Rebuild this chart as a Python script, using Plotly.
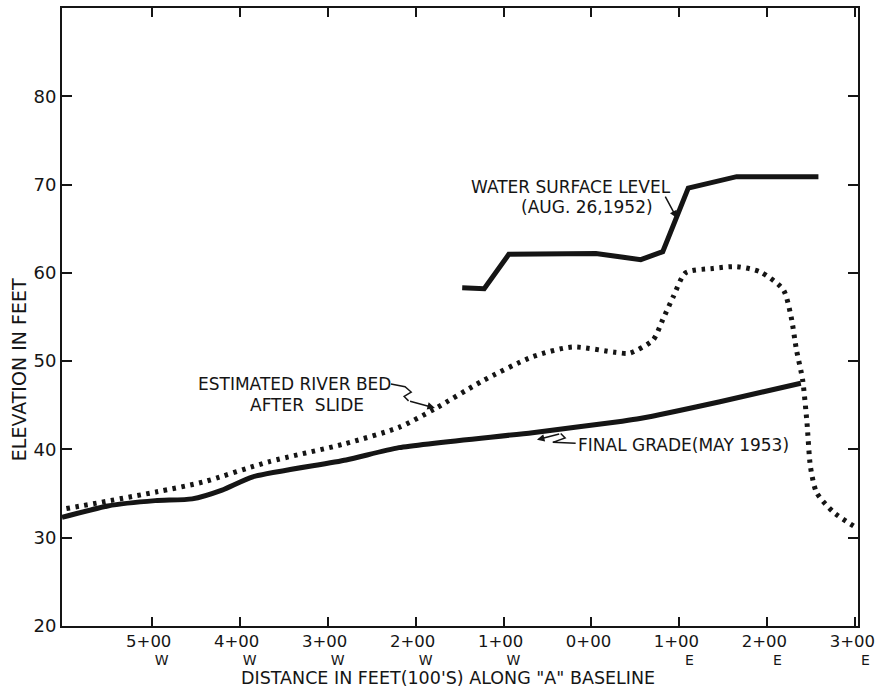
import plotly.graph_objects as go

# Distance in hundreds of feet along "A" baseline (W negative, E positive)
grade_x = [-6.02, -5.5, -4.96, -4.54, -4.2, -3.85, -2.79, -2.19, -0.67, 0.35, 0.55, 1.46, 2.38]
grade_y = [32.3, 33.6, 34.2, 34.4, 35.4, 36.9, 38.8, 40.2, 41.9, 43.2, 43.5, 45.4, 47.5]

bed_x = [-5.97, -4.94, -4.42, -3.67, -2.82, -2.19, -1.78, -1.25, -0.67, -0.22, 0.27, 0.43,
         0.70, 0.81, 0.93, 1.07, 1.38, 1.65, 1.92, 2.18, 2.27, 2.33, 2.40, 2.45, 2.49, 2.56, 2.75, 3.0]
bed_y = [33.3, 35.2, 36.3, 38.6, 40.6, 42.5, 44.6, 47.7, 50.5, 51.6, 51.0, 50.9,
         52.4, 54.7, 57.3, 60.0, 60.5, 60.7, 60.1, 58.1, 55.0, 51.3, 47.9, 43.0, 38.0, 35.1, 32.9, 31.2]

water_x = [-1.47, -1.22, -0.94, 0.05, 0.56, 0.81, 1.10, 1.65, 2.58]
water_y = [58.3, 58.2, 62.1, 62.2, 61.5, 62.4, 69.6, 70.9, 70.9]

x_tickvals = [-5, -4, -3, -2, -1, 0, 1, 2, 3]
x_ticktext = ["5+00", "4+00", "3+00", "2+00", "1+00", "0+00", "1+00", "2+00", "3+00"]
x_dirtext = ["W", "W", "W", "W", "W", "", "E", "E", "E"]
y_tickvals = [20, 30, 40, 50, 60, 70, 80]

INK = "#151515"
FONT = "DejaVu Sans"

fig = go.Figure()
fig.add_trace(go.Scatter(x=bed_x, y=bed_y, mode="lines",
                         line=dict(color=INK, width=5, dash="3.5px,5.5px", shape="spline", smoothing=0.7),
                         name="Estimated river bed after slide", hoverinfo="skip"))
fig.add_trace(go.Scatter(x=grade_x, y=grade_y, mode="lines",
                         line=dict(color=INK, width=5, shape="spline", smoothing=0.6),
                         name="Final grade (May 1953)", hoverinfo="skip"))
fig.add_trace(go.Scatter(x=water_x, y=water_y, mode="lines",
                         line=dict(color=INK, width=5),
                         name="Water surface level (Aug. 26, 1952)", hoverinfo="skip"))
# invisible trace carrying the secondary (direction letter) axis
fig.add_trace(go.Scatter(x=[x_tickvals[0]], y=[y_tickvals[0]], xaxis="x2", mode="markers",
                         marker=dict(opacity=0), hoverinfo="skip", showlegend=False))

tfont = dict(family=FONT, size=17, color=INK)
ann = [
    dict(x=-0.23, y=69.7, text="WATER SURFACE LEVEL", showarrow=False, font=tfont),
    dict(x=-0.05, y=67.5, text="(AUG. 26,1952)", showarrow=False, font=tfont),
    dict(x=-3.375, y=47.45, text="ESTIMATED RIVER BED", showarrow=False, font=tfont),
    dict(x=-3.23, y=45.0, text="AFTER  SLIDE", showarrow=False, font=tfont),
    dict(x=1.045, y=40.5, text="FINAL GRADE(MAY 1953)", showarrow=False, font=tfont),
    # arrows
    dict(x=0.97, y=66.2, ax=0.83, ay=68.8, axref="x", ayref="y", text="", showarrow=True,
         arrowhead=2, arrowsize=1, arrowwidth=1.5, arrowcolor=INK),
    dict(x=-1.78, y=44.7, ax=-2.08, ay=45.5, axref="x", ayref="y", text="", showarrow=True,
         arrowhead=2, arrowsize=1, arrowwidth=1.5, arrowcolor=INK),
    dict(x=-0.62, y=41.1, ax=-0.35, ay=41.8, axref="x", ayref="y", text="", showarrow=True,
         arrowhead=2, arrowsize=1, arrowwidth=1.5, arrowcolor=INK),
    # axis titles
    dict(x=-0.054, y=0.414, xref="paper", yref="paper", xanchor="center", yanchor="middle",
         text="ELEVATION IN FEET", showarrow=False,
         textangle=-90, font=dict(family=FONT, size=19, color=INK)),
    dict(x=0.485, y=-0.0835, xref="paper", yref="paper", yanchor="middle",
         text='DISTANCE IN FEET(100\'S) ALONG "A" BASELINE', showarrow=False,
         font=dict(family=FONT, size=17.5, color=INK)),
]

shapes = [
    dict(type="path", xref="x", yref="y",
         path="M -2.28,47.4 L -2.12,47.1 L -2.05,46.5 L -2.13,46.0 L -2.08,45.5",
         line=dict(color=INK, width=1.5)),
    dict(type="path", xref="x", yref="y",
         path="M -0.18,40.7 L -0.44,40.8 L -0.30,41.3 L -0.35,41.8",
         line=dict(color=INK, width=1.5)),
]

fig.update_layout(
    width=876, height=691,
    margin=dict(l=62, r=18, t=8, b=65),
    paper_bgcolor="white", plot_bgcolor="white",
    showlegend=False, hovermode=False,
    font=dict(family=FONT, size=15, color=INK),
    annotations=ann, shapes=shapes,
    xaxis=dict(range=[-6.02, 3.03], tickvals=x_tickvals, ticktext=x_ticktext,
               ticks="inside", ticklen=9, tickwidth=2, tickcolor=INK,
               showline=True, linewidth=2, linecolor=INK, mirror="ticks",
               showgrid=False, zeroline=False, automargin=False,
               ticklabeloverflow="allow", ticklabelstandoff=-1, ticklabelshift=-3,
               tickfont=dict(family=FONT, size=16.5, color=INK)),
    xaxis2=dict(range=[-6.02, 3.03], overlaying="x", anchor="y", side="bottom",
                tickvals=x_tickvals, ticktext=x_dirtext, ticks="", showline=False,
                showgrid=False, zeroline=False, automargin=False,
                ticklabeloverflow="allow", ticklabelshift=10, ticklabelstandoff=24,
                tickfont=dict(family=FONT, size=14, color=INK)),
    yaxis=dict(range=[20, 90], tickvals=y_tickvals,
               ticks="inside", ticklen=10, tickwidth=2, tickcolor=INK,
               showline=True, linewidth=2, linecolor=INK, mirror="ticks",
               showgrid=False, zeroline=False, automargin=False,
               tickfont=dict(family=FONT, size=18, color=INK)),
)

fig.write_html("out.html", config={"displayModeBar": False, "staticPlot": True},
               post_script="document.body.style.margin='0px';document.body.style.overflow='hidden';")
